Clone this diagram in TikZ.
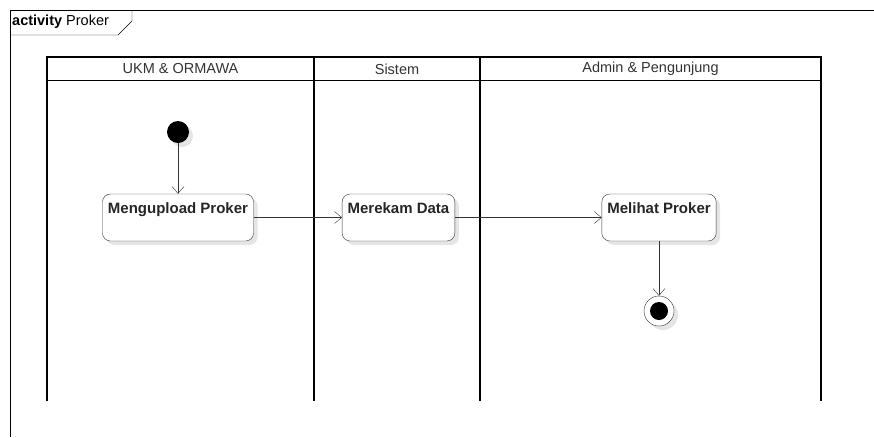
\documentclass[tikz,border=0pt]{standalone}
\usepackage{fontspec}
\setmainfont{Liberation Sans}
\usetikzlibrary{arrows.meta,shadows}
\begin{document}
\begin{tikzpicture}[x=1pt,y=-1pt,
    every node/.style={font=\fontsize{14.5}{17}\selectfont},
    lane/.style={line width=2pt},
    shade/.style={drop shadow={shadow xshift=4pt,shadow yshift=-4pt,fill=black!10,opacity=1}},
    act/.style={draw=black!80, fill=white, rounded corners=8pt, font=\fontsize{15}{18}\selectfont\bfseries, text=black!85, inner xsep=5.5pt, inner ysep=4pt, text height=15.5pt, text depth=23.5pt, shade},
    flow/.style={draw=black!80, -{Straight Barb[length=7pt,width=12pt]}}]
    \useasboundingbox (0,0) rectangle (874,437);
    \draw[thin] (874,10) -- (10,10) -- (10,437);
    \draw[thin] (10,35) -- (118,35) -- (132,21) -- (132,10);
    \node[anchor=west, inner sep=0pt] (tab) at (12,22) {\textbf{activity} Proker};
    \draw[lane] (47,401) -- (47,57) -- (821,57) -- (821,401);
    \draw[thick] (47,80) -- (821,80);
    \foreach \x in {314,480} {\draw[lane] (\x,57) -- (\x,401);}
    \node[text=black!80] (ukm) at (180.5,69) {UKM \& ORMAWA};
    \node[text=black!80] (sistem) at (397,69) {Sistem};
    \node[text=black!80] (admin) at (650.5,69) {Admin \& Pengunjung};
    \node[circle, fill=black, minimum size=22pt, inner sep=0pt, shade] (start) at (178,132) {};
    \node[act] (upload) at (178,217.5) {Mengupload Proker};
    \node[act] (rekam) at (398.5,217.5) {Merekam Data};
    \node[act] (lihat) at (659,217.5) {Melihat Proker};
    \node[circle, draw=black!80, fill=white, minimum size=30pt, inner sep=0pt, shade,
        path picture={\fill[black] (path picture bounding box.center) circle (9pt);}] (stop) at (659,311) {};
    \draw[flow] (start) -- (upload);
    \draw[flow] (upload) -- (rekam);
    \draw[flow] (rekam) -- (lihat);
    \draw[flow] (lihat) -- (stop);
\end{tikzpicture}
\end{document}
